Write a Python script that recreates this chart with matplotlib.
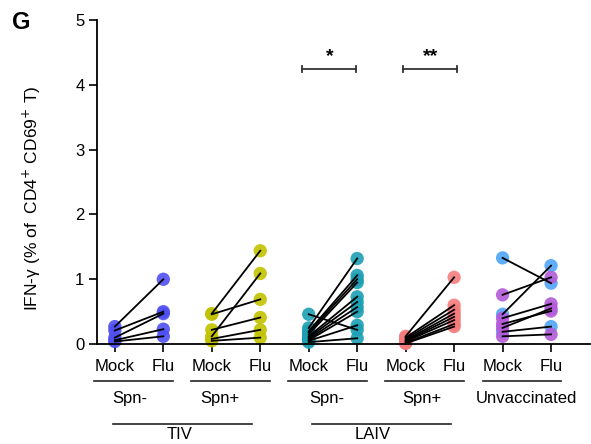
import matplotlib
matplotlib.use('Agg')
import matplotlib.pyplot as plt

plt.rcParams['font.family'] = ['Liberation Sans', 'DejaVu Sans']

# x positions: Mock/Flu pairs for each group
x_labels = ['Mock', 'Flu'] * 5

# paired values (mock, flu) for each subject
tiv_neg_mock = [0.27, 0.21, 0.10, 0.06, 0.04]
tiv_neg_flu = [1.00, 0.50, 0.47, 0.23, 0.12]

tiv_pos_mock = [0.47, 0.46, 0.22, 0.12, 0.08, 0.05]
tiv_pos_flu = [1.44, 0.69, 0.41, 1.09, 0.22, 0.10]

laiv_neg_mock = [0.46, 0.25, 0.20, 0.18, 0.15, 0.12, 0.10, 0.08, 0.06, 0.05, 0.03]
laiv_neg_flu = [0.22, 1.32, 1.06, 1.00, 0.95, 0.73, 0.65, 0.57, 0.50, 0.29, 0.09]

laiv_pos_mock = [0.12, 0.10, 0.08, 0.06, 0.05, 0.04, 0.02, 0.01]
laiv_pos_flu = [1.03, 0.60, 0.53, 0.47, 0.42, 0.37, 0.31, 0.27]

unvac_blue_mock = [1.33, 0.46, 0.19]
unvac_blue_flu = [0.94, 1.21, 0.27]
unvac_purple_mock = [0.76, 0.40, 0.31, 0.25, 0.12]
unvac_purple_flu = [1.03, 0.62, 0.51, 0.55, 0.15]

groups = [
    (0, tiv_neg_mock, tiv_neg_flu, '#4f4ff2'),
    (2, tiv_pos_mock, tiv_pos_flu, '#c2c200'),
    (4, laiv_neg_mock, laiv_neg_flu, '#1d9fb4'),
    (6, laiv_pos_mock, laiv_pos_flu, '#f57c7c'),
    (8, unvac_blue_mock, unvac_blue_flu, '#4fa5f7'),
    (8, unvac_purple_mock, unvac_purple_flu, '#b35ad8'),
]

fig = plt.figure(figsize=(5.91, 4.44), dpi=100)
ax = fig.add_axes([0.164, 0.225, 0.834, 0.730])

for x0, mock, flu, color in groups:
    for m, f in zip(mock, flu):
        ax.plot([x0, x0 + 1], [m, f], color='black', lw=1.3, zorder=3,
                clip_on=False)
    ax.scatter([x0] * len(mock), mock, s=92, color=color, alpha=0.9,
               edgecolors='none', zorder=2, clip_on=False)
    ax.scatter([x0 + 1] * len(flu), flu, s=92, color=color, alpha=0.9,
               edgecolors='none', zorder=2, clip_on=False)

ax.set_xlim(-0.37, 9.8)
ax.set_ylim(0, 5)
ax.set_yticks([0, 1, 2, 3, 4, 5])
ax.set_xticks(range(10))
ax.set_xticklabels(x_labels, fontsize=12)
ax.tick_params(axis='both', labelsize=12, width=1.2, length=6, pad=3)
ax.tick_params(axis='x', pad=5)
for s in ['top', 'right']:
    ax.spines[s].set_visible(False)
for s in ['left', 'bottom']:
    ax.spines[s].set_linewidth(1.3)

ax.set_ylabel('IFN-γ (% of  CD4$^{+}$ CD69$^{+}$ T)', fontsize=12.5)
ax.yaxis.set_label_coords(-0.11, 0.45)

# significance brackets
for x1, x2, star in [(3.87, 4.98, '*'), (5.95, 7.06, '**')]:
    ax.plot([x1, x2], [4.24, 4.24], color='#333333', lw=1.3, clip_on=False)
    for xx in (x1, x2):
        ax.plot([xx, xx], [4.19, 4.29], color='#333333', lw=1.3, clip_on=False)
    ax.text((x1 + x2) / 2, 4.3, star, ha='center', va='bottom',
            fontsize=14, fontweight='bold')

# group labels below the axis
tr = ax.get_xaxis_transform()
sub_lines = [(-0.43, 1.2), (1.57, 3.2), (3.57, 5.2), (5.57, 7.2), (7.6, 9.2)]
for a, b in sub_lines:
    ax.plot([a, b], [-0.114, -0.114], transform=tr, color='#222222',
            lw=1.2, clip_on=False)
sub_labels = [(0.3, 'Spn-'), (2.16, 'Spn+'), (4.38, 'Spn-'),
              (6.34, 'Spn+'), (8.5, 'Unvaccinated')]
for xx, t in sub_labels:
    ax.text(xx, -0.168, t, transform=tr, ha='center', va='center',
            fontsize=12)
for a, b in [(-0.04, 2.82), (4.07, 6.93)]:
    ax.plot([a, b], [-0.247, -0.247], transform=tr, color='#222222',
            lw=1.2, clip_on=False)
for xx, t in [(1.34, 'TIV'), (5.33, 'LAIV')]:
    ax.text(xx, -0.28, t, transform=tr, ha='center', va='center',
            fontsize=12)

fig.text(0.02, 0.95, 'G', fontsize=17, fontweight='bold', va='center')

fig.savefig('out.png', dpi=100)
